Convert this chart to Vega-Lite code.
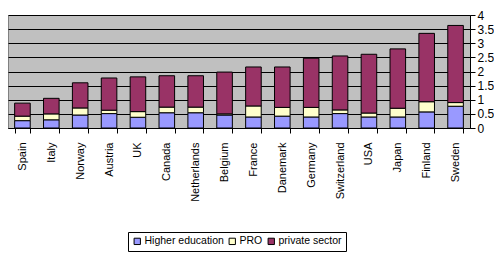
{
  "$schema": "https://vega.github.io/schema/vega-lite/v6.json",
  "width": 462,
  "height": 113,
  "autosize": "none",
  "padding": {"left": 8, "top": 15, "right": 24, "bottom": 130},
  "background": "white",
  "config": {
    "view": {"fill": "#C0C0C0", "stroke": "#808080"},
    "font": "Liberation Sans"
  },
  "data": {
    "values": [
      {"country": "Spain", "Higher education": 0.26, "PRO": 0.16, "private sector": 0.46},
      {"country": "Italy", "Higher education": 0.29, "PRO": 0.21, "private sector": 0.55},
      {"country": "Norway", "Higher education": 0.46, "PRO": 0.25, "private sector": 0.89},
      {"country": "Austria", "Higher education": 0.51, "PRO": 0.12, "private sector": 1.14},
      {"country": "UK", "Higher education": 0.38, "PRO": 0.2, "private sector": 1.23},
      {"country": "Canada", "Higher education": 0.54, "PRO": 0.2, "private sector": 1.11},
      {"country": "Netherlands", "Higher education": 0.54, "PRO": 0.2, "private sector": 1.11},
      {"country": "Belgium", "Higher education": 0.46, "PRO": 0.04, "private sector": 1.48},
      {"country": "France", "Higher education": 0.39, "PRO": 0.39, "private sector": 1.38},
      {"country": "Danemark", "Higher education": 0.42, "PRO": 0.31, "private sector": 1.43},
      {"country": "Germany", "Higher education": 0.39, "PRO": 0.34, "private sector": 1.74},
      {"country": "Switzerland", "Higher education": 0.51, "PRO": 0.13, "private sector": 1.91},
      {"country": "USA", "Higher education": 0.39, "PRO": 0.14, "private sector": 2.08},
      {"country": "Japan", "Higher education": 0.39, "PRO": 0.31, "private sector": 2.1},
      {"country": "Finland", "Higher education": 0.57, "PRO": 0.36, "private sector": 2.42},
      {"country": "Sweden", "Higher education": 0.77, "PRO": 0.13, "private sector": 2.73}
    ]
  },
  "transform": [
    {"fold": ["Higher education", "PRO", "private sector"], "as": ["sector", "value"]}
  ],
  "mark": {"type": "bar", "stroke": "black", "strokeWidth": 1},
  "encoding": {
    "x": {
      "field": "country",
      "type": "nominal",
      "sort": null,
      "scale": {"paddingInner": 0.46, "paddingOuter": 0.23},
      "axis": {
        "title": null,
        "labelAngle": -90,
        "labelFontSize": 11,
        "labelColor": "black",
        "labelPadding": 9,
        "tickSize": 5,
        "tickColor": "black",
        "domainColor": "black",
        "tickBand": "extent",
        "grid": false
      }
    },
    "y": {
      "field": "value",
      "type": "quantitative",
      "stack": "zero",
      "scale": {"domain": [0, 4], "nice": false},
      "axis": {
        "orient": "right",
        "title": null,
        "values": [0, 0.5, 1, 1.5, 2, 2.5, 3, 3.5, 4],
        "format": "~g",
        "labelFontSize": 12,
        "labelColor": "black",
        "labelPadding": 2,
        "tickSize": 5,
        "tickColor": "black",
        "domainColor": "black",
        "grid": true,
        "gridColor": "black",
        "gridOpacity": 1,
        "gridWidth": 1
      }
    },
    "color": {
      "field": "sector",
      "type": "nominal",
      "scale": {
        "domain": ["Higher education", "PRO", "private sector"],
        "range": ["#9999FF", "#FFFFCC", "#993366"]
      },
      "legend": {
        "title": null,
        "orient": "none",
        "legendX": 120,
        "legendY": 217,
        "direction": "horizontal",
        "strokeColor": "black",
        "fillColor": "white",
        "padding": 4,
        "symbolType": "square",
        "symbolSize": 40,
        "symbolStrokeColor": "black",
        "symbolStrokeWidth": 1,
        "labelFontSize": 10.5,
        "labelColor": "black",
        "labelOffset": 2,
        "columnPadding": 3
      }
    },
    "order": {"field": "sector", "sort": "ascending"}
  }
}
